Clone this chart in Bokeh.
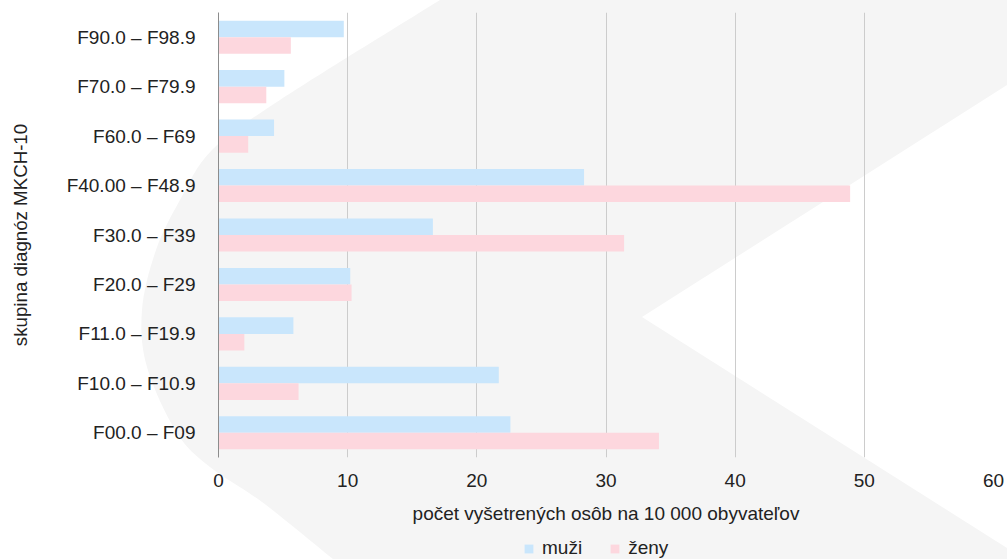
import urllib.parse
from bokeh.plotting import figure
from bokeh.layouts import column
from bokeh.models import FactorRange, Range1d, FixedTicker, Legend, LegendItem, ColumnDataSource
from bokeh.transform import dodge
from bokeh.embed import file_html
from bokeh.resources import INLINE

# ---- data (bottom to top) ----
categories = ["F00.0 – F09", "F10.0 – F10.9", "F11.0 – F19.9", "F20.0 – F29",
              "F30.0 – F39", "F40.00 – F48.9", "F60.0 – F69", "F70.0 – F79.9",
              "F90.0 – F98.9"]
muzi = [22.6, 21.7, 5.8, 10.2, 16.6, 28.3, 4.3, 5.1, 9.7]
zeny = [34.1, 6.2, 2.0, 10.3, 31.4, 48.9, 2.3, 3.7, 5.6]
x_ticks = [0, 10, 20, 30, 40, 50, 60]
series_labels = ["muži", "ženy"]
x_title = "počet vyšetrených osôb na 10 000 obyvateľov"
y_title = "skupina diagnóz MKCH-10"

W, H = 1007, 559
H_LEG = 30
FONT = "Liberation Sans"
TXT = "#222222"
BLUE = "#c9e6fc"
PINK = "#fdd7de"
BG = "#f5f5f5"

# ---- decorative background shape (CSS background, not data) ----
def catmull(pts):
    d = ""
    n = len(pts)
    for i in range(n - 1):
        p0 = pts[i - 1] if i > 0 else pts[i]
        p1 = pts[i]
        p2 = pts[i + 1]
        p3 = pts[i + 2] if i + 2 < n else (2 * p2[0] - p1[0], 2 * p2[1] - p1[1])
        c1 = (p1[0] + (p2[0] - p0[0]) / 6, p1[1] + (p2[1] - p0[1]) / 6)
        c2 = (p2[0] - (p3[0] - p1[0]) / 6, p2[1] - (p3[1] - p1[1]) / 6)
        d += f" C {c1[0]:.1f} {c1[1]:.1f} {c2[0]:.1f} {c2[1]:.1f} {p2[0]:.1f} {p2[1]:.1f}"
    return d

curve = [(440, 0), (280, 100), (212, 150), (180, 200), (156, 250), (142, 310),
         (147, 367), (177, 433), (210, 467), (262, 502), (333, 559)]
d = "M 1007 0 L 440 0" + catmull(curve) + " L 1007 559 L 1007 548 L 642 317 L 1007 85 Z"
svg = (f'<svg xmlns="http://www.w3.org/2000/svg" width="{W}" height="{H}" '
       f'viewBox="0 0 {W} {H}"><path d="{d}" fill="{BG}"/></svg>')
uri = "data:image/svg+xml;charset=utf-8," + urllib.parse.quote(svg)

# ---- main chart ----
p = figure(width=W, height=H - H_LEG,
           y_range=FactorRange(*categories), x_range=Range1d(0, 60),
           output_backend="svg", toolbar_location=None,
           min_border_left=218, min_border_right=14, min_border_top=12,
           min_border_bottom=H - H_LEG - 12 - 445)
p.background_fill_color = None
p.border_fill_color = None
p.outline_line_color = None

src = ColumnDataSource(dict(cat=categories, muzi=muzi, zeny=zeny))
r1 = p.hbar(y=dodge("cat", 0.1675, range=p.y_range), left=0, right="muzi", height=0.335,
            source=src, fill_color=BLUE, line_color=None)
r2 = p.hbar(y=dodge("cat", -0.1675, range=p.y_range), left=0, right="zeny", height=0.335,
            source=src, fill_color=PINK, line_color=None)

# x axis
xa = p.xaxis[0]
xa.ticker = FixedTicker(ticks=x_ticks)
xa.axis_line_color = None
xa.major_tick_line_color = None
xa.minor_tick_line_color = None
xa.major_label_text_font = FONT
xa.major_label_text_font_size = "19px"
xa.major_label_text_color = TXT
xa.major_label_standoff = 10
xa.axis_label = x_title
xa.axis_label_text_font = FONT
xa.axis_label_text_font_size = "19px"
xa.axis_label_text_font_style = "normal"
xa.axis_label_text_color = TXT
xa.axis_label_standoff = 13

# y axis
ya = p.yaxis[0]
ya.axis_line_color = "#8c8c8c"
ya.axis_line_width = 1
ya.major_tick_line_color = None
ya.minor_tick_line_color = None
ya.major_label_text_font = FONT
ya.major_label_text_font_size = "19px"
ya.major_label_text_color = TXT
ya.major_label_standoff = 17
ya.axis_label = y_title
ya.axis_label_text_font = FONT
ya.axis_label_text_font_size = "18.7px"
ya.axis_label_text_font_style = "normal"
ya.axis_label_text_color = TXT
ya.axis_label_standoff = 33

p.ygrid.grid_line_color = None
p.xgrid.ticker = FixedTicker(ticks=x_ticks)
p.xgrid.grid_line_color = "#cccccc"
p.xgrid.grid_line_width = 1

# ---- legend strip (separate small figure below the chart) ----
pl = figure(width=W, height=H_LEG, x_range=Range1d(0, 60), y_range=Range1d(0, 1),
            output_backend="svg", toolbar_location=None,
            x_axis_location=None, y_axis_location=None,
            min_border_left=0, min_border_right=0, min_border_top=0, min_border_bottom=0)
pl.background_fill_color = None
pl.border_fill_color = None
pl.outline_line_color = None
pl.xgrid.grid_line_color = None
pl.ygrid.grid_line_color = None
# legend proxies: same data, placed outside the visible strip
lr1 = pl.hbar(y=-100, left=0, right="muzi", height=1, source=src,
              fill_color=BLUE, line_color=None)
lr2 = pl.hbar(y=-100, left=0, right="zeny", height=1, source=src,
              fill_color=PINK, line_color=None)

legend = Legend(items=[LegendItem(label=series_labels[0], renderers=[lr1]),
                       LegendItem(label=series_labels[1], renderers=[lr2])],
                orientation="horizontal", location=(305, 0),
                border_line_color=None, background_fill_alpha=0,
                label_text_font=FONT, label_text_font_size="19px", label_text_color=TXT,
                glyph_width=11, glyph_height=11, label_standoff=8, spacing=27,
                padding=0, margin=0)
pl.add_layout(legend, "center")

layout = column(p, pl, spacing=0)
layout.styles = {"position": "absolute", "left": "0px", "top": "0px",
                 "background-image": f'url("{uri}")', "background-repeat": "no-repeat",
                 "background-size": f"{W}px {H}px"}

open("out.html", "w").write(file_html(layout, INLINE))
